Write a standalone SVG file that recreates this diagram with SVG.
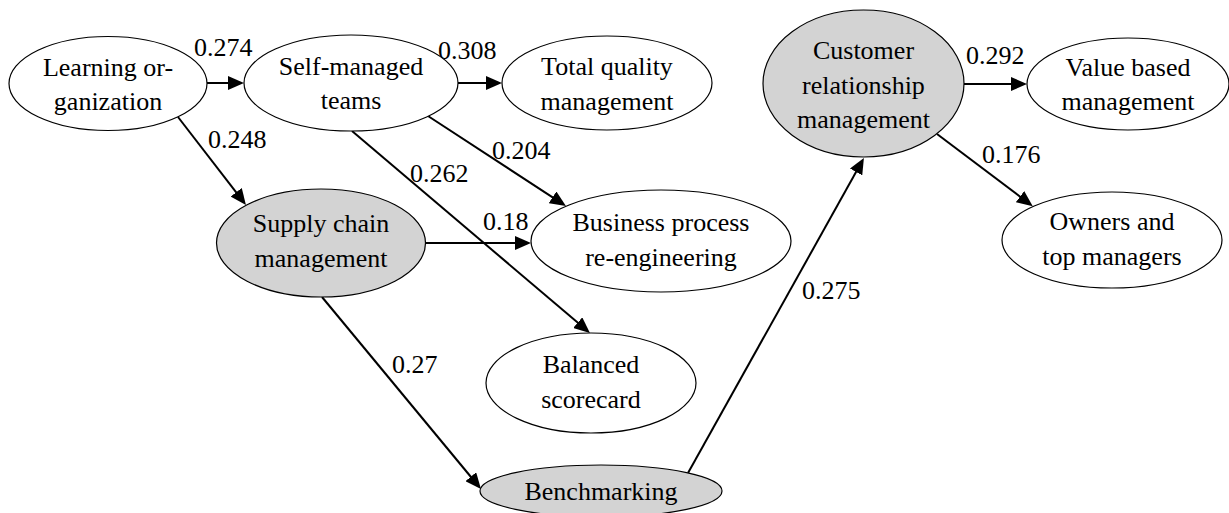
<svg xmlns="http://www.w3.org/2000/svg" width="1229" height="513" viewBox="0 0 1229 513">
<style>
  .node ellipse { fill: #ffffff; stroke: #000000; stroke-width: 1.2; }
  .node.shaded ellipse { fill: #d3d3d3; }
  text { font-family: "Liberation Serif", "Times New Roman", serif; font-size: 26px; fill: #000000; }
  .node text { text-anchor: middle; }
  .edges line { stroke: #000000; stroke-width: 2; fill: none; }
</style>
<defs>
  <marker id="ah" markerUnits="userSpaceOnUse" markerWidth="16" markerHeight="14" viewBox="0 0 16 14" refX="1" refY="7" orient="auto">
    <path d="M0,0 L16,7 L0,14 Z" fill="#000000"/>
  </marker>
</defs>
<rect x="0" y="0" width="1229" height="513" fill="#ffffff"/>

<g id="edges" class="edges">
  <line x1="207" y1="83" x2="229" y2="83" marker-end="url(#ah)"/>
  <line x1="178" y1="117" x2="236.8" y2="193.1" marker-end="url(#ah)"/>
  <line x1="458" y1="83" x2="487" y2="83" marker-end="url(#ah)"/>
  <line x1="428" y1="116" x2="553.4" y2="197.9" marker-end="url(#ah)"/>
  <line x1="352" y1="131" x2="578.5" y2="323.3" marker-end="url(#ah)"/>
  <line x1="426" y1="243" x2="516" y2="243" marker-end="url(#ah)"/>
  <line x1="322" y1="297" x2="471.4" y2="477.5" marker-end="url(#ah)"/>
  <line x1="688" y1="473" x2="856.6" y2="171.1" marker-end="url(#ah)"/>
  <line x1="964" y1="84" x2="1012" y2="84" marker-end="url(#ah)"/>
  <line x1="937" y1="134" x2="1020.8" y2="197.2" marker-end="url(#ah)"/>
  <g id="edge-labels">
    <text x="194" y="56">0.274</text>
    <text x="208" y="148">0.248</text>
    <text x="438" y="59">0.308</text>
    <text x="492" y="159">0.204</text>
    <text x="410" y="182">0.262</text>
    <text x="483" y="230">0.18</text>
    <text x="392" y="373">0.27</text>
    <text x="802" y="299">0.275</text>
    <text x="966" y="64">0.292</text>
    <text x="982" y="163">0.176</text>
  </g>
</g>

<g id="learning-organization" class="node">
  <ellipse cx="108" cy="83.5" rx="99" ry="47"/>
  <text x="108" y="76">Learning or-</text>
  <text x="108" y="110">ganization</text>
</g>
<g id="self-managed-teams" class="node">
  <ellipse cx="351" cy="83" rx="107" ry="48"/>
  <text x="351" y="75">Self-managed</text>
  <text x="351" y="109">teams</text>
</g>
<g id="total-quality-management" class="node">
  <ellipse cx="607" cy="83" rx="105" ry="47"/>
  <text x="607" y="75">Total quality</text>
  <text x="607" y="110">management</text>
</g>
<g id="customer-relationship-management" class="node shaded">
  <ellipse cx="863.5" cy="83.5" rx="100.5" ry="73.5"/>
  <text x="863.5" y="59">Customer</text>
  <text x="863.5" y="93.5">relationship</text>
  <text x="863.5" y="128">management</text>
</g>
<g id="value-based-management" class="node">
  <ellipse cx="1128" cy="84" rx="101" ry="46"/>
  <text x="1128" y="76">Value based</text>
  <text x="1128" y="110">management</text>
</g>
<g id="supply-chain-management" class="node shaded">
  <ellipse cx="321" cy="243" rx="104.5" ry="54"/>
  <text x="321" y="232">Supply chain</text>
  <text x="321" y="267">management</text>
</g>
<g id="business-process-re-engineering" class="node">
  <ellipse cx="661" cy="241" rx="130" ry="51"/>
  <text x="661" y="231">Business process</text>
  <text x="661" y="266">re-engineering</text>
</g>
<g id="owners-and-top-managers" class="node">
  <ellipse cx="1112" cy="240" rx="110" ry="48"/>
  <text x="1112" y="230">Owners and</text>
  <text x="1112" y="265">top managers</text>
</g>
<g id="balanced-scorecard" class="node">
  <ellipse cx="591" cy="383" rx="105" ry="50"/>
  <text x="591" y="373">Balanced</text>
  <text x="591" y="408">scorecard</text>
</g>
<g id="benchmarking" class="node shaded">
  <ellipse cx="601" cy="491" rx="121" ry="26"/>
  <text x="601" y="500">Benchmarking</text>
</g>
</svg>
